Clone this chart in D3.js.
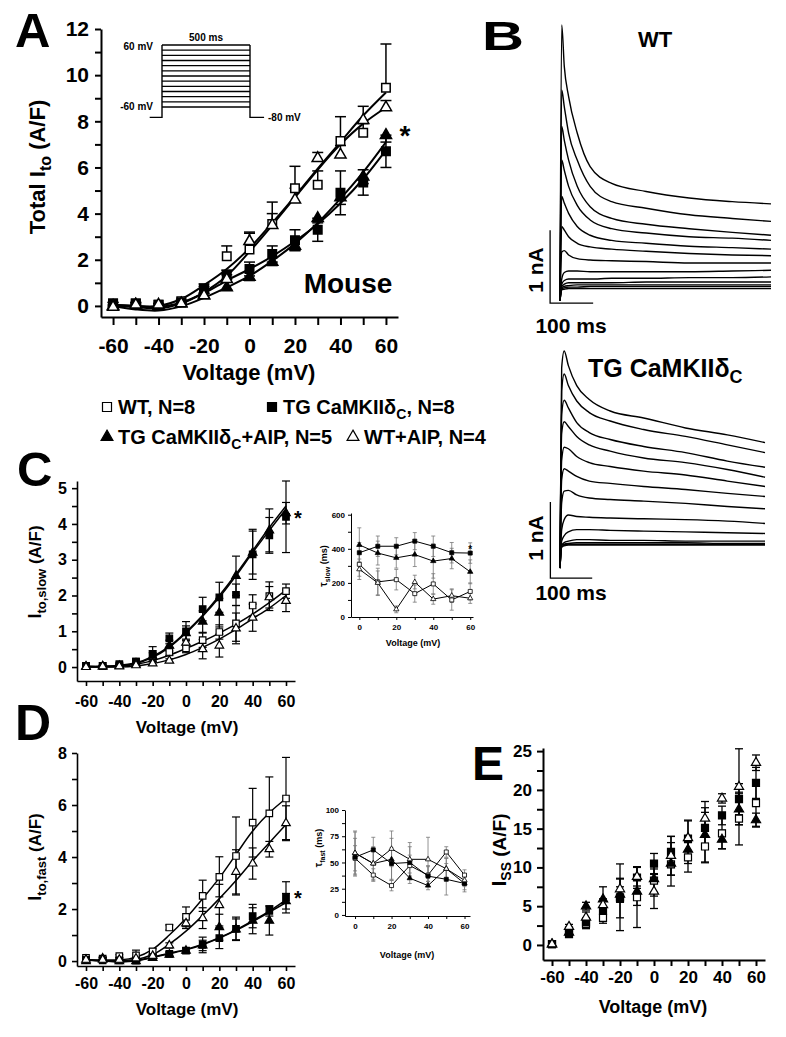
<!DOCTYPE html>
<html><head><meta charset="utf-8">
<script src="https://cdn.jsdelivr.net/npm/d3@7"></script>
<style>
body{margin:0;background:#fff}
svg{display:block}
text{font-family:"Liberation Sans",Arial,sans-serif;font-weight:bold;fill:#000}
</style>
</head><body>
<svg id="c" width="786" height="1037"></svg>
<script>
// ---------------- DATA ----------------
const volts = [-60,-50,-40,-30,-20,-10,0,10,20,30,40,50,60];
const insetVolts = [0,10,20,30,40,50,60];

// Panel A: total Ito (A/F)
const aWT  = [0.1,0.1,0.05,0.2,0.75,2.15,2.45,3.55,5.1,5.25,7.15,7.5,9.45];
const aWTerr = [0.05,0.05,0.05,0.05,0.2,0.45,0.75,0.95,0.95,0.6,1.05,0.4,1.9];
const aTG  = [0.1,0.1,0.05,0.15,0.7,1.35,1.6,2.25,2.85,3.3,4.9,5.35,6.7];
const aTGerr = [0.05,0.05,0.05,0.05,0.15,0.2,0.3,0.35,0.45,0.5,0.95,0.55,0.7];
const aTGA = [0.0,0.05,0.0,0.1,0.45,0.8,1.25,1.9,2.6,3.8,4.7,5.6,7.4];
const aTGAerr = [0.05,0.05,0.05,0.05,0.1,0.1,0.15,0.15,0.2,0.2,0.3,0.3,0.3];
const aWTA = [-0.05,0.05,0.05,0.1,0.45,1.15,2.8,3.5,4.6,6.4,6.55,8.05,8.6];
const aWTAerr = [0.05,0.05,0.05,0.05,0.1,0.2,0.35,0.5,0.5,0.25,0.4,0.6,0.3];
const aFitWT  = [0.05,0.0,0.0,0.3,0.9,1.6,2.5,3.6,4.75,5.95,7.1,8.25,9.25];
const aFitWTA = [0.0,-0.05,-0.1,0.1,0.6,1.3,2.35,3.5,4.7,5.9,7.0,7.9,8.6];
const aFitTG  = [0.05,0.0,-0.05,0.15,0.55,1.1,1.6,2.15,2.8,3.55,4.45,5.5,6.75];
const aFitTGA = [0.0,-0.15,-0.2,-0.02,0.35,0.8,1.3,1.95,2.7,3.6,4.65,5.8,7.1];
const protocolSteps = [-60,-50,-40,-30,-20,-10,0,10,20,30,40,50,60];

// Panel B: current traces (nA) at sample times (ms)
const traceTimes = [0,4,10,20,40,70,120,200,300,400,490];
const wtTraces = [
  [-0.15,3.63,3.06,2.65,2.15,1.69,1.46,1.35,1.26,1.21,1.18],
  [-0.15,2.74,2.51,2.15,1.78,1.42,1.21,1.12,1.03,0.98,0.94],
  [-0.15,2.24,2.05,1.78,1.42,1.14,0.98,0.90,0.84,0.79,0.75],
  [-0.15,1.78,1.64,1.42,1.16,0.96,0.84,0.78,0.73,0.71,0.68],
  [-0.15,1.28,1.19,1.05,0.87,0.75,0.68,0.64,0.60,0.58,0.56],
  [-0.15,0.87,0.82,0.73,0.64,0.59,0.56,0.53,0.50,0.48,0.47],
  [-0.15,0.52,0.54,0.48,0.43,0.41,0.40,0.39,0.37,0.37,0.37],
  [-0.15,0.15,0.24,0.26,0.26,0.25,0.25,0.25,0.25,0.26,0.27],
  [-0.15,0.08,0.13,0.15,0.15,0.15,0.16,0.16,0.17,0.17,0.18],
  [-0.15,0.05,0.08,0.10,0.10,0.10,0.10,0.11,0.11,0.11,0.11],
  [-0.15,0.03,0.05,0.06,0.07,0.07,0.07,0.07,0.07,0.07,0.07],
  [-0.15,0.02,0.03,0.04,0.04,0.05,0.05,0.05,0.05,0.05,0.05],
  [-0.15,0.00,0.01,0.02,0.02,0.02,0.02,0.02,0.02,0.02,0.02]
];
const tgTraces = [
  [-0.3,2.30,2.52,2.33,2.07,1.89,1.74,1.65,1.52,1.43,1.33],
  [-0.3,2.00,2.22,2.07,1.87,1.72,1.61,1.50,1.41,1.30,1.20],
  [-0.3,1.70,1.88,1.78,1.59,1.46,1.37,1.28,1.20,1.09,1.01],
  [-0.3,1.45,1.60,1.54,1.41,1.30,1.22,1.13,1.07,0.98,0.88],
  [-0.3,1.10,1.27,1.25,1.15,1.07,1.02,0.96,0.91,0.83,0.76],
  [-0.3,0.85,0.99,0.96,0.89,0.83,0.80,0.76,0.72,0.67,0.63],
  [-0.3,0.55,0.70,0.71,0.65,0.61,0.59,0.57,0.54,0.50,0.47],
  [-0.3,0.20,0.33,0.39,0.37,0.36,0.35,0.34,0.33,0.31,0.28],
  [-0.3,0.05,0.12,0.17,0.20,0.20,0.19,0.18,0.17,0.16,0.15],
  [-0.3,0.00,0.03,0.05,0.07,0.07,0.06,0.06,0.05,0.05,0.05],
  [-0.3,0.00,0.01,0.02,0.03,0.03,0.03,0.03,0.03,0.02,0.02],
  [-0.3,-0.02,0.00,0.01,0.01,0.01,0.01,0.01,0.01,0.01,0.01],
  [-0.3,-0.03,-0.01,0,0,0,0,0,0,0,0]
];

// Panel C: Ito,slow (A/F)
const cWT  = [0.03,0.03,0.05,0.15,0.3,0.42,0.52,0.75,0.98,1.22,1.72,1.98,2.12];
const cWTerr = [0.02,0.02,0.03,0.05,0.1,0.1,0.12,0.2,0.2,0.5,0.3,0.4,0.2];
const cTG  = [0.03,0.03,0.08,0.15,0.37,0.8,1.0,1.62,1.95,2.02,3.15,3.68,4.2];
const cTGerr = [0.02,0.02,0.03,0.05,0.2,0.15,0.27,0.33,0.42,0.3,0.7,0.5,1.0];
const cTGA = [0.02,0.02,0.03,0.1,0.3,0.6,0.95,1.27,1.52,2.55,3.2,3.82,4.3];
const cTGAerr = [0.02,0.02,0.03,0.05,0.15,0.15,0.2,0.3,0.4,0.55,0.6,0.6,0.3];
const cWTA = [0.0,0.02,0.02,0.05,0.1,0.18,0.68,0.5,0.6,1.08,1.38,1.95,1.85];
const cWTAerr = [0.02,0.02,0.02,0.03,0.05,0.05,0.1,0.27,0.32,0.43,0.38,0.3,0.3];
const cFitTG  = [0.02,0.02,0.05,0.12,0.3,0.58,0.98,1.45,2.0,2.6,3.25,3.9,4.5];
const cFitTGA = [0.02,0.02,0.04,0.1,0.27,0.55,0.95,1.42,1.95,2.55,3.2,3.82,4.42];
const cFitWT  = [0.0,0.0,0.02,0.08,0.18,0.33,0.52,0.72,0.95,1.2,1.48,1.8,2.15];
const cFitWTA = [0.0,0.0,0.0,0.03,0.1,0.2,0.35,0.55,0.78,1.05,1.35,1.65,2.0];

// Inset C: tau slow (ms)
const tsWT  = [309,206,219,137,194,100,150];
const tsWTerr = [70,80,60,50,60,60,50];
const tsTG  = [377,415,415,445,415,377,375];
const tsTGerr = [60,60,50,50,60,60,60];
const tsTGA = [423,375,347,366,328,343,265];
const tsTGAerr = [100,70,60,70,100,60,70];
const tsWTA = [280,200,45,205,105,125,110];
const tsWTAerr = [60,70,20,40,30,40,30];

// Panel D: Ito,fast (A/F)
const dWT  = [0.12,0.09,0.19,0.22,0.37,1.29,1.7,2.51,3.24,4.04,5.32,5.68,6.25];
const dWTerr = [0.05,0.05,0.05,0.2,0.1,0.1,0.38,0.6,0.77,1.5,1.32,1.4,1.58];
const dTG  = [0.05,0.03,0.03,0.02,0.15,0.28,0.4,0.62,0.88,1.24,1.73,1.93,2.45];
const dTGerr = [0.03,0.03,0.03,0.03,0.05,0.08,0.1,0.3,0.4,0.45,0.45,0.2,0.6];
const dTGA = [0.0,0.1,0.0,0.0,0.12,0.25,0.4,0.6,1.3,1.22,1.55,1.55,2.3];
const dTGAerr = [0.03,0.05,0.03,0.03,0.05,0.08,0.1,0.2,0.5,0.4,0.5,0.55,0.3];
const dWTA = [0.05,0.05,0.05,0.1,0.2,0.6,1.45,1.65,2.15,3.43,3.75,4.3,5.3];
const dWTAerr = [0.03,0.03,0.03,0.05,0.05,0.1,0.2,0.4,0.8,0.85,0.6,0.3,0.67];
const dFitWT  = [0.05,0.03,0.04,0.15,0.45,1.0,1.65,2.4,3.2,4.1,5.0,5.7,6.25];
const dFitWTA = [0.05,0.03,0.03,0.06,0.25,0.65,1.15,1.75,2.4,3.1,3.85,4.55,5.25];
const dFitTG  = [0.05,0.01,-0.02,0.02,0.15,0.3,0.45,0.65,0.9,1.2,1.55,1.92,2.35];
const dFitTGA = [0.04,0.0,-0.03,0.0,0.13,0.28,0.43,0.63,0.88,1.18,1.52,1.88,2.25];

// Inset D: tau fast (ms)
const tfWT  = [54,38,28,47,38,60,38];
const tfWTerr = [12,6,5,10,8,5,5];
const tfTG  = [55,62,49,50,37,34,30];
const tfTGerr = [18,12,15,15,10,15,8];
const tfTGA = [59,49,53,35,28,44,30];
const tfTGAerr = [20,15,20,5,4,10,6];
const tfWTA = [59,49,63,53,53,44,33];
const tfWTAerr = [21,16,17,16,21,10,6];

// Panel E: Iss (A/F)
const eWT  = [0.1,1.85,2.7,3.5,6.15,6.15,8.3,10.4,11.3,12.7,14.4,16.3,18.3];
const eWTerr = [0.2,0.4,0.6,0.7,4.3,3.9,1.5,2.8,1.9,2.1,2.0,3.4,3.0];
const eTG  = [0.1,1.4,2.9,4.4,6.0,8.7,10.5,12.0,13.7,15.1,16.7,18.8,20.9];
const eTGerr = [0.2,0.3,0.6,1.3,2.5,1.4,1.3,2.0,2.3,2.0,1.2,2.0,2.0];
const eTGA = [0.1,1.6,5.0,5.9,6.5,6.9,8.5,10.5,12.3,14.2,13.6,17.5,16.1];
const eTGAerr = [0.2,0.3,0.5,1.6,1.0,1.8,2.2,1.5,1.8,3.5,1.2,2.0,0.9];
const eWTA = [0.1,2.35,3.55,5.15,7.2,8.8,6.9,11.5,13.8,16.3,18.9,20.4,23.5];
const eWTAerr = [0.2,0.3,0.7,0.8,1.4,1.2,2.2,2.5,2.3,2.2,0.6,4.9,1.0];

const legendItems = [
  {type:"wt",  label:"WT, N=8"},
  {type:"tg",  label:"TG CaMKIIδ", sub:"C", tail:", N=8"},
  {type:"tga", label:"TG CaMKIIδ", sub:"C", tail:"+AIP, N=5"},
  {type:"wta", label:"WT+AIP, N=4"}
];

// ---------------- DRAWING ----------------
const svg = d3.select("#c");
const FONT = '"Liberation Sans", Arial, sans-serif';

function symPath(type, s) {
  const tri = (type === "tga" || type === "wta");
  return d3.symbol().type(tri ? d3.symbolTriangle : d3.symbolSquare).size(tri ? s*s*0.75 : s*s)();
}
function isFilled(type){ return type === "tg" || type === "tga"; }

function labelFmt(step) {
  return d => (Math.abs(d/step - Math.round(d/step)) < 1e-9) ? String(d) : "";
}

function drawAxes(g, x, y, o) {
  const y0 = y.range()[0], x0 = x.range()[0];
  const xa = d3.axisBottom(x).tickValues(o.xt).tickFormat(labelFmt(o.xstep))
    .tickSize(o.tlx).tickSizeOuter(0).tickPadding(o.padx);
  const gx = g.append("g").attr("transform", `translate(0,${y0})`).call(xa);
  const ya = d3.axisLeft(y).tickValues(o.yt).tickFormat(labelFmt(o.ystep))
    .tickSize(o.tly).tickSizeOuter(0).tickPadding(o.pady);
  const gy = g.append("g").attr("transform", `translate(${x0},0)`).call(ya);
  [gx, gy].forEach(a => {
    a.select(".domain").attr("stroke", "#000").attr("stroke-width", o.sw);
    a.selectAll(".tick line").attr("stroke", "#000").attr("stroke-width", o.tsw || o.sw);
    a.selectAll(".tick text").attr("font-family", FONT).attr("font-weight", "bold")
      .attr("font-size", o.fs).attr("fill", "#000");
  });
}

function drawSeries(g, x, y, xs, series, o) {
  const line = d3.line().x((d,i) => x(xs[i])).y(d => y(d));
  if (o.fits) {
    o.fits.forEach(f => g.append("path").datum(f)
      .attr("d", line.curve(d3.curveCatmullRom.alpha(0.5)))
      .attr("fill", "none").attr("stroke", "#000").attr("stroke-width", o.fw));
  }
  if (o.connect) {
    series.forEach(s => g.append("path").datum(s.v)
      .attr("d", d3.line().x((d,i) => x(xs[i])).y(d => y(d)))
      .attr("fill", "none").attr("stroke", "#000").attr("stroke-width", o.fw));
  }
  series.forEach(s => {
    const pts = s.v.map((v,i) => ({x: xs[i], v, e: s.e[i]}));
    const eg = g.append("g").attr("stroke", o.ec || "#000").attr("stroke-width", o.ew);
    pts.forEach(p => {
      const up = s.dir !== "down", dn = s.dir !== "up";
      const cx = x(p.x);
      if (up) {
        eg.append("line").attr("x1", cx).attr("x2", cx).attr("y1", y(p.v)).attr("y2", y(p.v + p.e));
        eg.append("line").attr("x1", cx - o.cw/2).attr("x2", cx + o.cw/2).attr("y1", y(p.v + p.e)).attr("y2", y(p.v + p.e));
      }
      if (dn) {
        eg.append("line").attr("x1", cx).attr("x2", cx).attr("y1", y(p.v)).attr("y2", y(p.v - p.e));
        eg.append("line").attr("x1", cx - o.cw/2).attr("x2", cx + o.cw/2).attr("y1", y(p.v - p.e)).attr("y2", y(p.v - p.e));
      }
    });
  });
  series.forEach(s => {
    g.append("g").selectAll("path").data(s.v).join("path")
      .attr("transform", (d,i) => `translate(${x(xs[i])},${y(d)})`)
      .attr("d", symPath(s.type, o.ms))
      .attr("fill", isFilled(s.type) ? "#000" : "#fff")
      .attr("stroke", "#000").attr("stroke-width", o.msw);
  });
}

function txt(g, x, y, str, size, anchor, rot) {
  const t = g.append("text").attr("font-size", size).attr("text-anchor", anchor || "start")
    .attr("font-family", FONT).attr("font-weight", "bold");
  if (rot) t.attr("transform", `translate(${x},${y}) rotate(-90)`);
  else t.attr("x", x).attr("y", y);
  t.text(str);
  return t;
}
function richText(g, x, y, parts, anchor, rot) {
  const t = g.append("text").attr("text-anchor", anchor || "middle")
    .attr("font-family", FONT).attr("font-weight", "bold");
  if (rot) t.attr("transform", `translate(${x},${y}) rotate(-90)`);
  else t.attr("x", x).attr("y", y);
  parts.forEach(p => t.append("tspan").attr("font-size", p[1]).attr("dy", p[2] || 0).text(p[0]));
  return t;
}

const S = (v, e, type, dir) => ({v, e, type, dir});

// ---------- Panel A ----------
{
  const g = svg.append("g");
  const x = d3.scaleLinear([-65.3, 65.3], [101, 398]);
  const y = d3.scaleLinear([-0.48, 12], [317, 29]);
  drawAxes(g, x, y, {xt: volts, xstep: 20, yt: d3.range(0, 13, 1), ystep: 2,
    tlx: 8, tly: 6, padx: 13, pady: 6, sw: 2, fs: 21});
  drawSeries(g, x, y, volts, [
    S(aWT, aWTerr, "wt", "up"), S(aTG, aTGerr, "tg", "both"),
    S(aTGA, aTGAerr, "tga", "down"), S(aWTA, aWTAerr, "wta", "up")
  ], {fits: [aFitWT, aFitWTA, aFitTG, aFitTGA], fw: 2, ew: 1.5, cw: 11, ms: 8.5, msw: 1.5});
  txt(g, 249, 380, "Voltage (mV)", 22, "middle");
  richText(g, 45, 167, [["Total I", 22], ["to", 16, 6], [" (A/F)", 22, -6]], "middle", true);
  txt(g, 348, 293, "Mouse", 28, "middle");
  txt(g, 405, 145, "*", 28, "middle");
  txt(g, 15, 47, "A", 49, "start");
  // voltage protocol inset
  const tP = d3.scaleLinear([0, 500], [162, 250]);
  const vP = d3.scaleLinear([-60, 60], [107, 45]);
  const pg = g.append("g").attr("stroke", "#000").attr("stroke-width", 1.4).attr("fill", "none");
  protocolSteps.forEach(v => pg.append("line").attr("x1", tP(0)).attr("x2", tP(500)).attr("y1", vP(v)).attr("y2", vP(v)));
  pg.append("path").attr("d", d3.line().x(d => tP(d[0])).y(d => vP(d[1]))([[-70,-80],[0,-80],[0,60]]));
  pg.append("path").attr("d", d3.line().x(d => tP(d[0])).y(d => vP(d[1]))([[500,60],[500,-80],[580,-80]]));
  txt(g, 153, 50, "60 mV", 10, "end");
  txt(g, 153, 110, "-60 mV", 10, "end");
  txt(g, tP(250), 41, "500 ms", 10, "middle");
  txt(g, 268, 121, "-80 mV", 10, "start");
}

// ---------- Panel B ----------
{
  const g = svg.append("g");
  txt(g, 482, 50, "B", 40, "start").attr("textLength", 42).attr("lengthAdjust", "spacingAndGlyphs");
  const drawTraces = (traces, x, y) => {
    const line = d3.line().x((d,i) => x(traceTimes[i])).y(d => y(d)).curve(d3.curveMonotoneX);
    traces.forEach(tr => g.append("path").datum(tr).attr("d", line)
      .attr("fill", "none").attr("stroke", "#000").attr("stroke-width", 1.4));
  };
  const xW = d3.scaleLinear([0, 490], [560, 771]);
  const yW = d3.scaleLinear([0, 1], [290, 217]);
  drawTraces(wtTraces, xW, yW);
  g.append("path").attr("d", d3.line().x(d => xW(d[0])).y(d => yW(d[1]))([[-23,0.82],[-23,-0.18],[77,-0.18]]))
    .attr("fill", "none").attr("stroke", "#000").attr("stroke-width", 1.3);
  txt(g, 655, 47, "WT", 22, "middle");
  txt(g, 543, 270, "1 nA", 21, "middle", true);
  txt(g, 571, 333, "100 ms", 21, "middle");

  const xT = d3.scaleLinear([0, 490], [560, 765]);
  const yT = d3.scaleLinear([0, 1], [545, 468]);
  drawTraces(tgTraces, xT, yT);
  g.append("path").attr("d", d3.line().x(d => xT(d[0])).y(d => yT(d[1]))([[-23,0.56],[-23,-0.43],[77,-0.43]]))
    .attr("fill", "none").attr("stroke", "#000").attr("stroke-width", 1.3);
  richText(g, 588, 377, [["TG CaMKIIδ", 25], ["C", 18, 6]], "start", false);
  txt(g, 543, 538, "1 nA", 21, "middle", true);
  txt(g, 571, 600, "100 ms", 21, "middle");
}

// ---------- Legend ----------
{
  const g = svg.append("g");
  const pos = [[107, 407], [272, 407], [107, 437], [353, 437]];
  legendItems.forEach((it, i) => {
    const [px, py] = pos[i];
    g.append("path").attr("transform", `translate(${px},${py})`).attr("d", symPath(it.type, 9))
      .attr("fill", isFilled(it.type) ? "#000" : "#fff").attr("stroke", "#000").attr("stroke-width", 1.2);
    const parts = [[it.label, 20]];
    if (it.sub) { parts.push([it.sub, 14, 5]); parts.push([it.tail, 20, -5]); }
    richText(g, px + 11, py + 7, parts, "start", false);
  });
}

// ---------- Panel C ----------
{
  const g = svg.append("g");
  const x = d3.scaleLinear([-65.4, 65.4], [77, 295]);
  const y = d3.scaleLinear([-0.39, 5.2], [681, 481]);
  drawAxes(g, x, y, {xt: volts, xstep: 20, yt: d3.range(0, 5.01, 0.5), ystep: 1,
    tlx: 5, tly: 5, padx: 10, pady: 5, sw: 1.6, fs: 16});
  drawSeries(g, x, y, volts, [
    S(cWT, cWTerr, "wt", "both"), S(cTG, cTGerr, "tg", "both"),
    S(cTGA, cTGAerr, "tga", "both"), S(cWTA, cWTAerr, "wta", "both")
  ], {fits: [cFitTG, cFitTGA, cFitWT, cFitWTA], fw: 1.5, ew: 1.2, cw: 8, ms: 6.5, msw: 1.2});
  txt(g, 187, 733, "Voltage (mV)", 17, "middle");
  richText(g, 41, 572, [["I", 18], ["to,slow", 13, 5], [" (A/F)", 17, -5]], "middle", true);
  txt(g, 298, 525, "*", 20, "middle");
  txt(g, 17, 486, "C", 49, "start");

  // inset tau slow
  const xi = d3.scaleLinear([-4.5, 61.5], [351, 473]);
  const yi = d3.scaleLinear([0, 610], [617, 513]);
  drawAxes(g, xi, yi, {xt: d3.range(0, 61, 10), xstep: 20, yt: d3.range(0, 601, 100), ystep: 200,
    tlx: 3, tly: 3, padx: 4, pady: 3, sw: 1, fs: 8});
  drawSeries(g, xi, yi, insetVolts, [
    S(tsWT, tsWTerr, "wt", "both"), S(tsTG, tsTGerr, "tg", "both"),
    S(tsTGA, tsTGAerr, "tga", "both"), S(tsWTA, tsWTAerr, "wta", "both")
  ], {connect: true, fw: 1, ew: 0.8, ec: "#777", cw: 4, ms: 4, msw: 0.8});
  txt(g, 413, 646, "Voltage (mV)", 9, "middle");
  richText(g, 327, 566, [["τ", 10], ["slow", 7, 3], [" (ms)", 9, -3]], "middle", true);
  txt(g, xi(60), 553, "*", 10, "middle");
}

// ---------- Panel D ----------
{
  const g = svg.append("g");
  const x = d3.scaleLinear([-65.4, 65.4], [77, 295]);
  const y = d3.scaleLinear([-0.19, 8], [966, 753]);
  drawAxes(g, x, y, {xt: volts, xstep: 20, yt: d3.range(0, 8.01, 1), ystep: 2,
    tlx: 5, tly: 5, padx: 7, pady: 5, sw: 1.6, fs: 16});
  drawSeries(g, x, y, volts, [
    S(dWT, dWTerr, "wt", "both"), S(dTG, dTGerr, "tg", "both"),
    S(dTGA, dTGAerr, "tga", "both"), S(dWTA, dWTAerr, "wta", "both")
  ], {fits: [dFitWT, dFitWTA, dFitTG, dFitTGA], fw: 1.5, ew: 1.2, cw: 8, ms: 6.5, msw: 1.2});
  txt(g, 187, 1015, "Voltage (mV)", 17, "middle");
  richText(g, 41, 857, [["I", 18], ["to,fast", 13, 5], [" (A/F)", 17, -5]], "middle", true);
  txt(g, 298, 905, "*", 20, "middle");
  txt(g, 15, 740, "D", 50, "start");

  // inset tau fast
  const xi = d3.scaleLinear([-5.5, 63], [345, 470]);
  const yi = d3.scaleLinear([-1, 100], [916, 810]);
  drawAxes(g, xi, yi, {xt: d3.range(0, 61, 10), xstep: 20, yt: d3.range(0, 100.1, 12.5), ystep: 25,
    tlx: 3, tly: 3, padx: 4, pady: 3, sw: 1, fs: 8});
  drawSeries(g, xi, yi, insetVolts, [
    S(tfWT, tfWTerr, "wt", "both"), S(tfTG, tfTGerr, "tg", "both"),
    S(tfTGA, tfTGAerr, "tga", "both"), S(tfWTA, tfWTAerr, "wta", "both")
  ], {connect: true, fw: 1, ew: 0.8, ec: "#777", cw: 4, ms: 4, msw: 0.8});
  txt(g, 407, 958, "Voltage (mV)", 9, "middle");
  richText(g, 322, 848, [["τ", 10], ["fast", 7, 3], [" (ms)", 9, -3]], "middle", true);
}

// ---------- Panel E ----------
{
  const g = svg.append("g");
  const x = d3.scaleLinear([-65.3, 65.3], [543, 765]);
  const y = d3.scaleLinear([-1.94, 25.4], [960, 748]);
  drawAxes(g, x, y, {xt: volts, xstep: 20, yt: d3.range(0, 25.01, 2.5), ystep: 5,
    tlx: 6, tly: 6, padx: 5, pady: 5, sw: 2, fs: 17});
  drawSeries(g, x, y, volts, [
    S(eWT, eWTerr, "wt", "both"), S(eTG, eTGerr, "tg", "both"),
    S(eTGA, eTGAerr, "tga", "both"), S(eWTA, eWTAerr, "wta", "both")
  ], {fw: 1.5, ew: 1.3, cw: 8, ms: 7, msw: 1.2});
  txt(g, 653, 1013, "Voltage (mV)", 18, "middle");
  richText(g, 506, 850, [["I", 21], ["SS", 14, 5], [" (A/F)", 19, -5]], "middle", true);
  txt(g, 472, 780, "E", 48, "start");
}
</script>
</body></html>
